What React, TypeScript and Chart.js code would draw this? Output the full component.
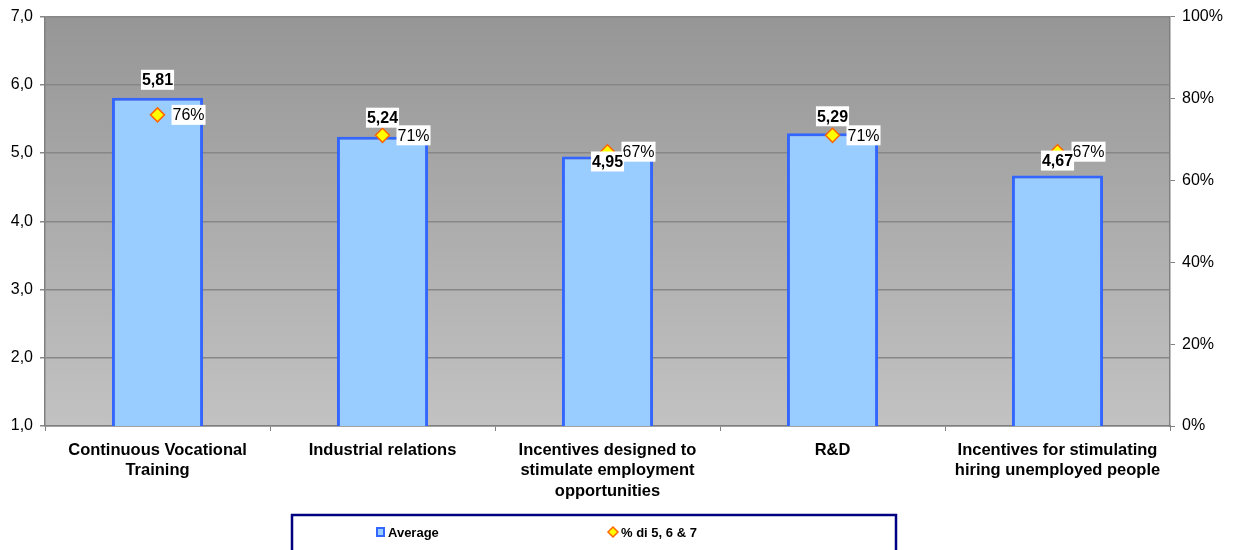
import React, { useEffect, useRef } from "react";
import { Chart, registerables } from "chart.js";

Chart.register(...registerables);

const categories: string[][] = [
  ["Continuous Vocational", "Training"],
  ["Industrial relations"],
  ["Incentives designed to", "stimulate employment", "opportunities"],
  ["R&D"],
  ["Incentives for stimulating", "hiring unemployed people"],
];
const averageValues = [5.81, 5.24, 4.95, 5.29, 4.67];
const shareValues = [0.76, 0.71, 0.67, 0.71, 0.67];
const averageLabel = "Average";
const shareLabel = "% di 5, 6 & 7";

const FONT = "'Liberation Sans', Arial, sans-serif";
const BAR_FILL = "#99ccff";
const BAR_EDGE = "#3366ff";
const MARK_FILL = "#ffff00";
const MARK_EDGE = "#ff6600";

const W = 1234;
const H = 550;

const fmtComma = (v: number, d: number) => v.toFixed(d).replace(".", ",");

// Gradient fill behind the plot area
const plotBackground = {
  id: "plotBackground",
  beforeDraw(chart: any) {
    const { ctx, chartArea: a } = chart;
    const g = ctx.createLinearGradient(0, a.top, 0, a.bottom);
    g.addColorStop(0, "#969696");
    g.addColorStop(1, "#c2c2c2");
    ctx.save();
    ctx.fillStyle = g;
    ctx.fillRect(a.left, a.top, a.right - a.left, a.bottom - a.top);
    ctx.restore();
  },
};

function boxedText(ctx: CanvasRenderingContext2D, text: string, x: number, y: number, align: "center" | "left") {
  const w = ctx.measureText(text).width;
  const left = align === "center" ? x - w / 2 : x;
  ctx.fillStyle = "#ffffff";
  ctx.fillRect(left - 1, y - 10, w + 2, 20);
  ctx.fillStyle = "#000000";
  ctx.textAlign = "left";
  ctx.textBaseline = "middle";
  ctx.fillText(text, left, y + 1);
}

// Value labels: bold average above each bar, percentage to the right of each marker
const valueLabels = {
  id: "valueLabels",
  afterDatasetsDraw(chart: any, _args: any, opts: any) {
    const { ctx } = chart;
    const bars = chart.getDatasetMeta(0).data;
    const points = chart.getDatasetMeta(1).data;
    const shifts: number[] = opts.barLabelShift || [];
    ctx.save();
    ctx.font = `16px ${FONT}`;
    points.forEach((p: any, i: number) => {
      boxedText(ctx, `${Math.round(shareValues[i] * 100)}%`, p.x + 15, p.y, "left");
    });
    ctx.font = `bold 16px ${FONT}`;
    bars.forEach((b: any, i: number) => {
      boxedText(ctx, fmtComma(averageValues[i], 2), b.x, b.y + (shifts[i] ?? -18), "center");
    });
    ctx.restore();
  },
};

// Framed legend under the axis labels
const framedLegend = {
  id: "framedLegend",
  afterDraw(chart: any) {
    const { ctx } = chart;
    ctx.save();
    ctx.strokeStyle = "#000080";
    ctx.lineWidth = 2.5;
    ctx.strokeRect(292, 515, 604, 50);

    ctx.fillStyle = BAR_FILL;
    ctx.strokeStyle = BAR_EDGE;
    ctx.lineWidth = 2;
    ctx.fillRect(376, 527, 9, 10);
    ctx.strokeRect(377, 528, 7, 8);

    ctx.fillStyle = "#000";
    ctx.font = `bold 13px ${FONT}`;
    ctx.textBaseline = "middle";
    ctx.textAlign = "left";
    ctx.fillText(chart.data.datasets[0].label, 388, 533);

    const cx = 613, cy = 532, r = 5;
    ctx.beginPath();
    ctx.moveTo(cx, cy - r);
    ctx.lineTo(cx + r, cy);
    ctx.lineTo(cx, cy + r);
    ctx.lineTo(cx - r, cy);
    ctx.closePath();
    ctx.fillStyle = MARK_FILL;
    ctx.fill();
    ctx.strokeStyle = MARK_EDGE;
    ctx.lineWidth = 1.5;
    ctx.stroke();

    ctx.fillStyle = "#000";
    ctx.fillText(chart.data.datasets[1].label, 621, 533);
    ctx.restore();
  },
};

export default function App() {
  const ref = useRef<HTMLCanvasElement | null>(null);

  useEffect(() => {
    document.body.style.margin = "0";
    if (!ref.current) return;
    const chart = new Chart(ref.current, {
      type: "bar",
      data: {
        labels: categories,
        datasets: [
          {
            type: "bar",
            label: averageLabel,
            data: averageValues,
            backgroundColor: BAR_FILL,
            borderColor: BAR_EDGE,
            borderWidth: 3,
            borderSkipped: false,
            categoryPercentage: 1,
            barPercentage: 0.405,
            yAxisID: "y",
            order: 2,
          },
          {
            type: "line",
            label: shareLabel,
            data: shareValues,
            showLine: false,
            pointStyle: "rectRot",
            pointRadius: 7,
            pointHoverRadius: 7,
            pointBackgroundColor: MARK_FILL,
            pointBorderColor: MARK_EDGE,
            pointBorderWidth: 1.5,
            yAxisID: "y1",
            order: 1,
          } as any,
        ],
      },
      options: {
        responsive: false,
        animation: false,
        events: [],
        layout: { padding: { top: 16, left: 0, right: 0, bottom: 0 } },
        plugins: {
          legend: { display: false },
          tooltip: { enabled: false },
          valueLabels: { barLabelShift: [-18, -19, 5, -17, -15] },
        } as any,
        scales: {
          x: {
            offset: true,
            grid: {
              offset: true,
              drawOnChartArea: false,
              drawTicks: true,
              tickLength: 5,
              color: "#808080",
            },
            border: { color: "#808080", width: 1.5 },
            ticks: {
              color: "#000",
              font: { family: FONT, size: 16.5, weight: "bold", lineHeight: 1.25 },
              maxRotation: 0,
              autoSkip: false,
              padding: 9,
            },
            afterFit: (s: any) => {
              s.height = 124;
            },
          },
          y: {
            position: "left",
            min: 1,
            max: 7,
            ticks: {
              stepSize: 1,
              color: "#000",
              padding: 7,
              font: { family: FONT, size: 16 },
              callback: (v: any) => fmtComma(Number(v), 1),
            },
            grid: { color: "#878787", lineWidth: 1.5, tickLength: 5 },
            border: { color: "#808080", width: 1.5 },
            afterFit: (s: any) => {
              s.width = 45;
            },
          },
          y1: {
            position: "right",
            min: 0,
            max: 1,
            ticks: {
              stepSize: 0.2,
              color: "#000",
              padding: 7,
              font: { family: FONT, size: 16 },
              callback: (v: any) => `${Math.round(Number(v) * 100)}%`,
            },
            grid: { drawOnChartArea: false, color: "#808080", tickLength: 5 },
            border: { color: "#808080", width: 1.5 },
            afterFit: (s: any) => {
              s.width = 64;
            },
          },
        },
      },
      plugins: [plotBackground, valueLabels, framedLegend],
    });
    return () => chart.destroy();
  }, []);

  return (
    <div style={{ position: "absolute", left: 0, top: 0, width: W, height: H, background: "#fff" }}>
      <canvas ref={ref} width={W} height={H} style={{ display: "block" }} />
    </div>
  );
}
